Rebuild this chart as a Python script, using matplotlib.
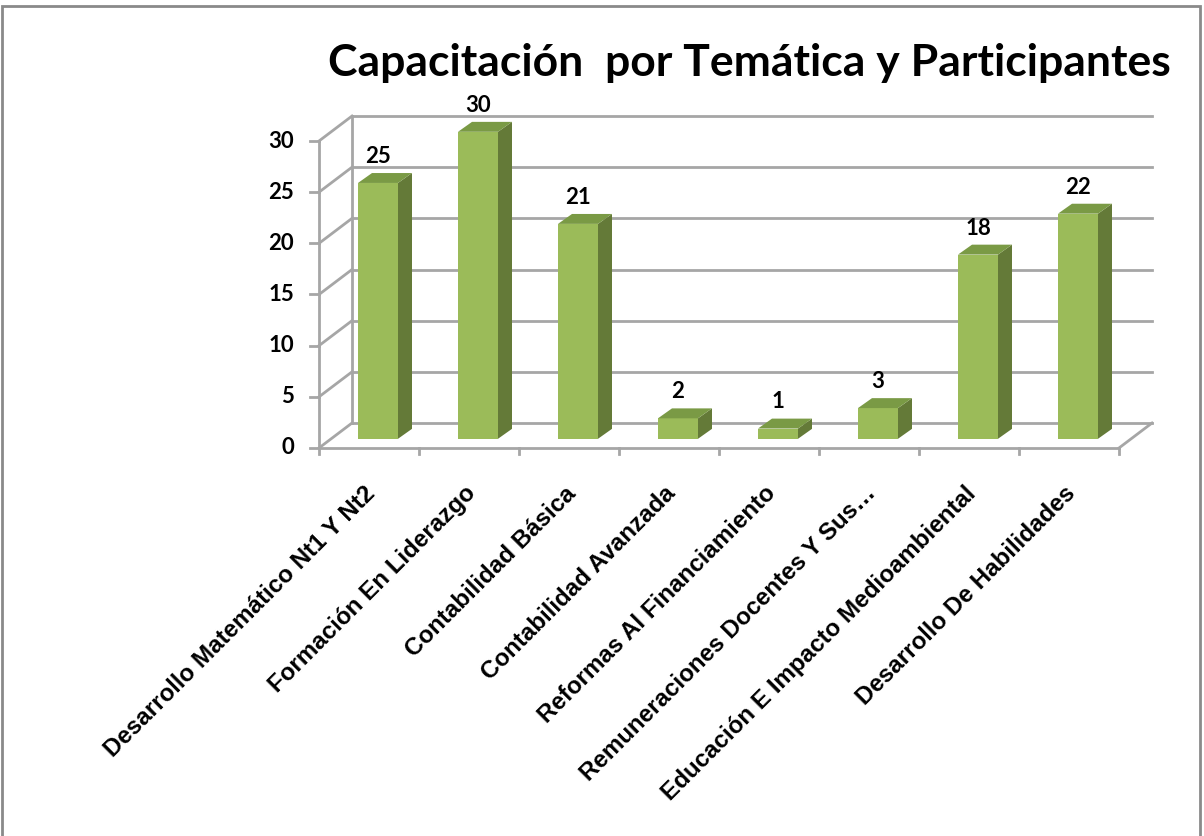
import matplotlib
matplotlib.use("Agg")
import matplotlib.pyplot as plt
from matplotlib.patches import Polygon, Rectangle

categorias = [
    "Desarrollo Matemático Nt1 Y Nt2",
    "Formación En Liderazgo",
    "Contabilidad Básica",
    "Contabilidad Avanzada",
    "Reformas Al Financiamiento",
    "Remuneraciones Docentes Y Sus…",
    "Educación E Impacto Medioambiental",
    "Desarrollo De Habilidades",
]
participantes = [25, 30, 21, 2, 1, 3, 18, 22]
niveles = [0, 5, 10, 15, 20, 25, 30]

titulo = "Capacitación  por Temática y Participantes"

# colores tipo Excel 2007
c_frente = "#9bbb59"
c_techo = "#7a9a45"
c_lado = "#647a38"
c_grid = "#a6a6a6"

fig = plt.figure(figsize=(12.04, 8.36), dpi=100)
ax = fig.add_axes([0, 0, 1, 1])
# 1 unidad x = una categoria, escala y en participantes
ax.set_xlim(-3.19, 8.85)
ax.set_ylim(-37.92, 43.78)
ax.axis("off")

n = len(categorias)
# desplazamiento de la pared del fondo (pseudo 3D)
fx, fy = 0.33, 2.44
# desplazamiento de las barras y su profundidad
bx, by = 0.39, 0.9
px, py = 0.14, 0.97
ancho = 0.40

# pared del fondo: lineas horizontales
for v in niveles:
    ax.plot([fx, n + fx], [v + fy, v + fy], color=c_grid, lw=2, zorder=1)
    # pared izquierda: diagonales
    ax.plot([0, fx], [v, v + fy], color=c_grid, lw=2, zorder=1)
    # marcas del eje y
    ax.plot([-0.09, 0], [v, v], color=c_grid, lw=2, zorder=1)
    ax.text(-0.25, v, str(v), ha="right", va="center", fontsize=16,
            fontweight="bold", family="Lato", color="black")

ax.plot([fx, fx], [fy, niveles[-1] + fy], color=c_grid, lw=2, zorder=1)
ax.plot([0, 0], [0, niveles[-1]], color=c_grid, lw=2, zorder=1)
# piso
ax.plot([0, n], [0, 0], color=c_grid, lw=2, zorder=1)
ax.plot([n, n + fx], [0, fy], color=c_grid, lw=2, zorder=1)
for i in range(n + 1):
    ax.plot([i, i], [0, -0.6], color=c_grid, lw=2, zorder=1)

# barras
for i, val in enumerate(participantes):
    x0 = i + bx
    x1 = x0 + ancho
    y0 = by
    y1 = by + val
    frente = Polygon([(x0, y0), (x1, y0), (x1, y1), (x0, y1)], closed=True,
                     facecolor=c_frente, edgecolor="none", zorder=3)
    lado = Polygon([(x1, y0), (x1 + px, y0 + py), (x1 + px, y1 + py), (x1, y1)],
                   closed=True, facecolor=c_lado, edgecolor="none", zorder=3)
    techo = Polygon([(x0, y1), (x1, y1), (x1 + px, y1 + py), (x0 + px, y1 + py)],
                    closed=True, facecolor=c_techo, edgecolor="none", zorder=3)
    ax.add_patch(frente)
    ax.add_patch(lado)
    ax.add_patch(techo)
    ax.text((x0 + x1) / 2, y1 + py + 0.6, str(val), ha="center", va="bottom",
            fontsize=16, fontweight="bold", family="Lato", color="black", zorder=4)

# etiquetas de categoria
for i, cat in enumerate(categorias):
    ax.text(i + 0.53, -4.1, cat, rotation=45, rotation_mode="anchor",
            ha="right", va="center", fontsize=17.4, fontweight="bold",
            family="Liberation Sans", color="black")

fig.text(749 / 1204, 1 - 63 / 836, titulo, ha="center", va="center",
         fontsize=32, fontweight="bold", family="Lato", color="black")

# marco del grafico
fig.patches.append(Rectangle((2 / 1204, -0.02), 1198 / 1204, 1 - 6 / 836 + 0.02,
                             transform=fig.transFigure, fill=False,
                             edgecolor="#8a8a8a", lw=2))

fig.savefig("out.png", dpi=100, facecolor="white")
